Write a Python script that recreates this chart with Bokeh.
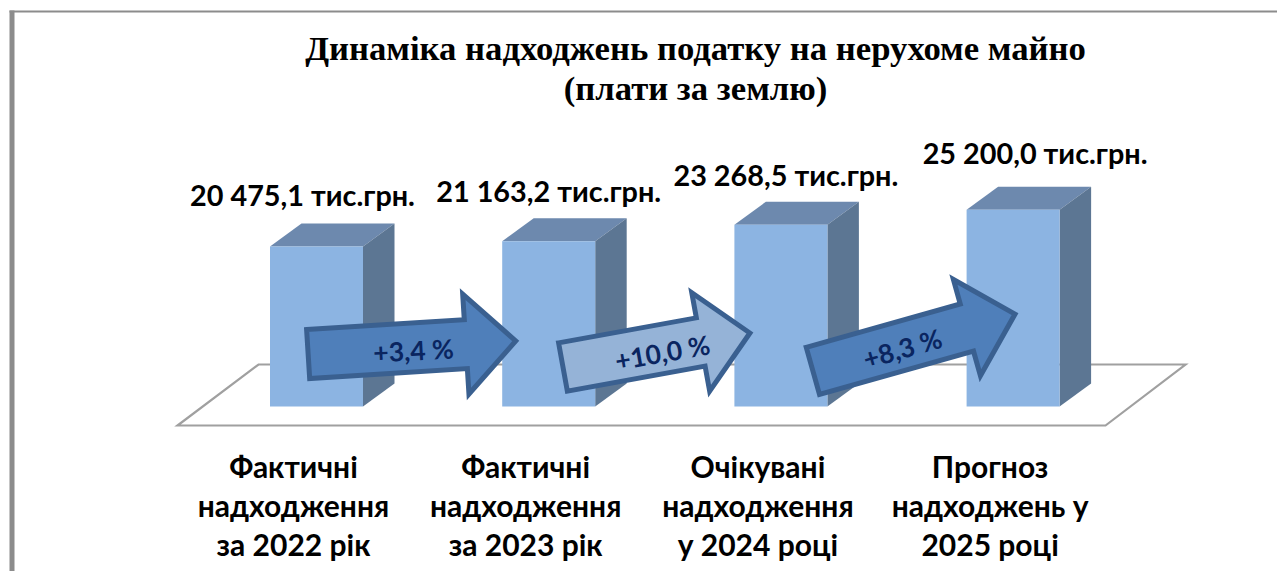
import math
from bokeh.plotting import figure
from bokeh.models import Range1d, ColumnDataSource
from bokeh.core.properties import value
from bokeh.embed import file_html
from bokeh.resources import INLINE

# ---- data
categories = ["Фактичні\nнадходження\nза 2022 рік", "Фактичні\nнадходження\nза 2023 рік",
              "Очікувані\nнадходження\nу 2024 році", "Прогноз\nнадходжень у\n2025 році"]
values = [20475.1, 21163.2, 23268.5, 25200.0]
value_labels = ["20 475,1 тис.грн.", "21 163,2 тис.грн.", "23 268,5 тис.грн.", "25 200,0 тис.грн."]
growth_labels = ["+3,4 %", "+10,0 %", "+8,3 %"]
title_lines = ["Динаміка надходжень податку на нерухоме майно", "(плати за землю)"]

# ---- layout / scale
W, H = 1277, 571
PX_PER_CAT = 232.2
PX_PER_VAL = 0.00781
X0_PX, Y0_PX = 316, 406          # category 0 / value 0 inside the canvas
def xd(px): return (px - X0_PX) / PX_PER_CAT
def yd(py): return (Y0_PX - py) / PX_PER_VAL

p = figure(width=W, height=H, output_backend="svg", toolbar_location=None,
           x_range=Range1d(xd(0), xd(W)), y_range=Range1d(yd(H), yd(0)),
           min_border=0, outline_line_color=None, background_fill_color="white",
           border_fill_color="white")
p.axis.visible = False
p.grid.visible = False

# frame at the left and top
p.quad(left=[xd(9)], right=[xd(14)], top=[yd(10)], bottom=[yd(H)], fill_color="#8c8c8c", line_color=None)
p.quad(left=[xd(9)], right=[xd(W)], top=[yd(10)], bottom=[yd(12)], fill_color="#8c8c8c", line_color=None)

# floor
p.patch([xd(177), xd(1105), xd(1185), xd(258)], [yd(425), yd(425), yd(364), yd(364)],
        fill_color="white", line_color="#a0a0a0", line_width=2.2, line_join="miter")

# 3D bars
BAR = 93 / PX_PER_CAT
DX = 31.5 / PX_PER_CAT
DY = 23 / PX_PER_VAL
FRONT, TOP, SIDE = "#8cb4e2", "#6d89ae", "#5c7693"
for i, v in enumerate(values):
    l, r = i - BAR / 2, i + BAR / 2
    p.patch([l, r, r + DX, l + DX], [v, v, v + DY, v + DY], fill_color=TOP, line_color=None)
    p.patch([r, r + DX, r + DX, r], [0, DY, v + DY, v], fill_color=SIDE, line_color=None)
    p.quad(left=[l], right=[r], bottom=[0], top=[v], fill_color=FRONT, line_color=None)

# growth arrows: centre (category, value), length px, angle deg
arrow_cx = [0.411, 1.464, 2.573]
arrow_cy = [7554, 7234, 8195]
arrow_len = [208, 190, 210]
arrow_ang = [3.6, 10.3, 15.7]
arrow_fill = ["#4f7fba", "#95b3d7", "#4f7fba"]
SHAFT, HEAD, HEADLEN = 24.5, 50, 50
for cx, cy, L, a, c in zip(arrow_cx, arrow_cy, arrow_len, arrow_ang, arrow_fill):
    t = [(-L/2, SHAFT), (L/2 - HEADLEN, SHAFT), (L/2 - HEADLEN, HEAD), (L/2, 0),
         (L/2 - HEADLEN, -HEAD), (L/2 - HEADLEN, -SHAFT), (-L/2, -SHAFT)]
    ca, sa = math.cos(math.radians(a)), math.sin(math.radians(a))
    xs = [cx + (u * ca - w * sa) / PX_PER_CAT for u, w in t]
    ys = [cy + (u * sa + w * ca) / PX_PER_VAL for u, w in t]
    p.patch(xs, ys, fill_color=c, line_color="#3a6090", line_width=5, line_join="miter")

# growth labels
gsrc = ColumnDataSource(dict(x=[xd(413), xd(662), xd(902)], y=[yd(350), yd(352), yd(348)],
                             t=growth_labels, a=[math.radians(3), math.radians(10), math.radians(16)]))
p.text("x", "y", text="t", angle="a", source=gsrc, text_font=value("Lato"), text_font_style="bold",
       text_font_size="26.5px", text_color="#0a2560", text_align="center", text_baseline="middle")

# value labels
vsrc = ColumnDataSource(dict(x=list(range(4)), y=values, t=value_labels,
                             xo=[-14, 0, 5, 22], yo=[-52, -50, -50, -57]))
p.text("x", "y", text="t", x_offset="xo", y_offset="yo", source=vsrc, text_font=value("Lato"),
       text_font_style="bold", text_font_size="28.8px", text_color="black",
       text_align="center", text_baseline="middle")

# category labels
csrc = ColumnDataSource(dict(x=list(range(4)), y=[0] * 4, t=categories, xo=[-23] * 4, yo=[41] * 4))
p.text("x", "y", text="t", x_offset="xo", y_offset="yo", source=csrc, text_font=value("Lato"),
       text_font_style="bold", text_font_size="30px", text_color="black", text_align="center",
       text_baseline="top", text_line_height=1.085)

# title
tsrc = ColumnDataSource(dict(x=[xd(695)] * 2, y=[yd(48), yd(88)], t=title_lines))
p.text("x", "y", text="t", source=tsrc, text_font=value("Liberation Serif"), text_font_style="bold",
       text_font_size="34.7px", text_color="black", text_align="center", text_baseline="middle")

open("out.html", "w").write(file_html(p, INLINE))
